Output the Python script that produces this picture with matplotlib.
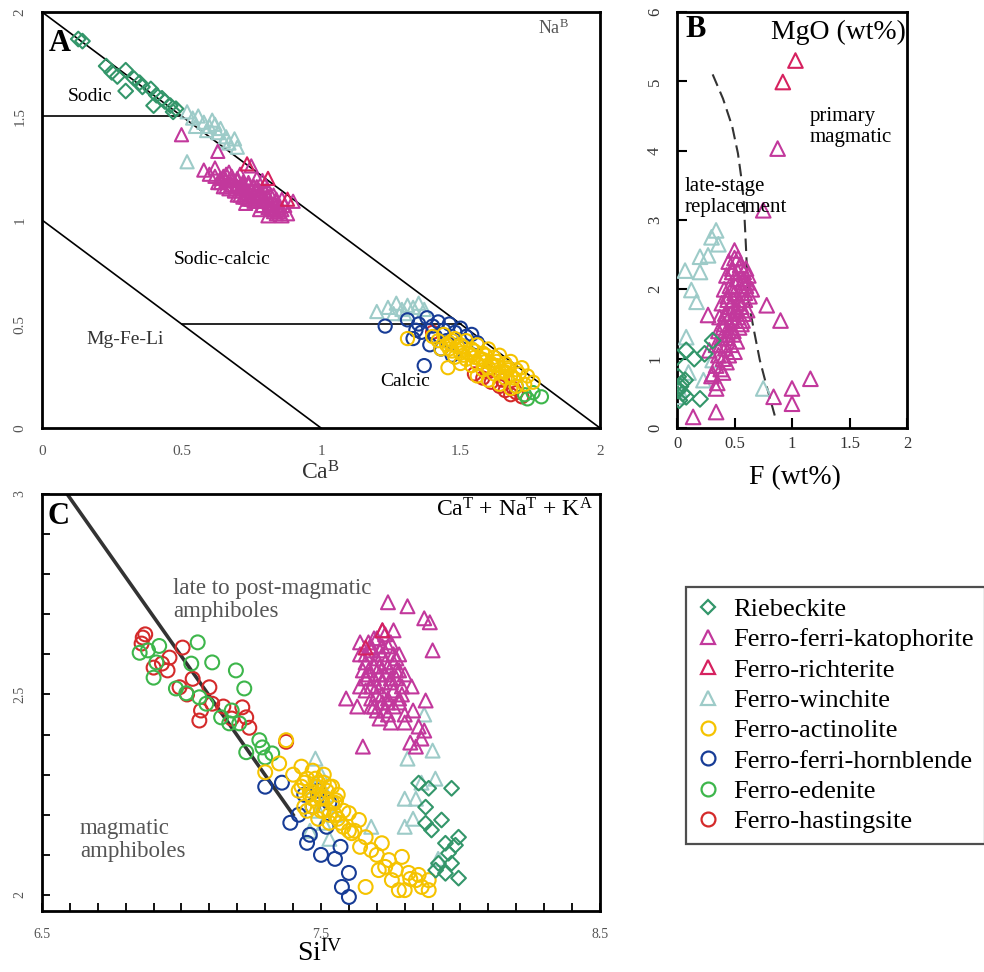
import numpy as np
import matplotlib
matplotlib.use("Agg")
import matplotlib.pyplot as plt
from matplotlib.lines import Line2D

plt.rcParams['font.family'] = ['Liberation Serif', 'DejaVu Serif']
plt.rcParams['mathtext.fontset'] = 'custom'
plt.rcParams['mathtext.rm'] = 'Liberation Serif'
plt.rcParams['mathtext.it'] = 'Liberation Serif:italic'

names = ['Riebeckite', 'Ferro-ferri-katophorite', 'Ferro-richterite', 'Ferro-winchite',
         'Ferro-actinolite', 'Ferro-ferri-hornblende', 'Ferro-edenite', 'Ferro-hastingsite']
colors = ['#33966a', '#c2389c', '#d6215f', '#9dcbc8', '#f5c300', '#173c96', '#3db64b', '#d42a2a']
markers = ['D', '^', '^', '^', 'o', 'o', 'o', 'o']

# ---------------- panel A: CaB vs NaB ----------------
rieb_A_x = [0.13, 0.145, 0.23, 0.27, 0.30, 0.30, 0.33, 0.36, 0.39, 0.40, 0.43, 0.46, 0.47, 0.48, 0.35, 0.41, 0.44, 0.25]
rieb_A_y = [1.87, 1.86, 1.74, 1.69, 1.72, 1.62, 1.68, 1.64, 1.63, 1.55, 1.585, 1.55, 1.52, 1.535, 1.66, 1.60, 1.57, 1.71]
kat_A_x = [0.50, 0.63, 0.58, 0.60, 0.62, 0.65, 0.67, 0.64, 0.68, 0.70, 0.71, 0.69, 0.72, 0.74, 0.73, 0.75, 0.76, 0.77,
           0.78, 0.76, 0.79, 0.80, 0.81, 0.79, 0.82, 0.83, 0.84, 0.82, 0.85, 0.86, 0.74, 0.71, 0.77, 0.80, 0.83, 0.87,
           0.88, 0.66, 0.70, 0.73, 0.78, 0.81, 0.84, 0.75, 0.79, 0.86, 0.72, 0.90,
           0.62, 0.64, 0.66, 0.68, 0.70, 0.72, 0.74, 0.76, 0.78, 0.80, 0.82, 0.84, 0.86,
           0.63, 0.65, 0.67, 0.69, 0.71, 0.73, 0.75, 0.77, 0.79, 0.81, 0.83, 0.85,
           0.66, 0.68, 0.70, 0.72, 0.74, 0.76, 0.78, 0.80, 0.82, 0.84]
kat_A_y = [1.41, 1.33, 1.24, 1.22, 1.25, 1.21, 1.23, 1.18, 1.19, 1.20, 1.16, 1.14, 1.17, 1.18, 1.13, 1.15, 1.12, 1.16,
           1.13, 1.09, 1.10, 1.14, 1.11, 1.07, 1.08, 1.12, 1.09, 1.05, 1.06, 1.10, 1.10, 1.22, 1.20, 1.17, 1.04, 1.07,
           1.03, 1.16, 1.12, 1.08, 1.05, 1.02, 1.03, 1.26, 1.19, 1.02, 1.11, 1.09,
           1.21, 1.20, 1.19, 1.17, 1.16, 1.15, 1.14, 1.12, 1.11, 1.10, 1.08, 1.07, 1.05,
           1.18, 1.16, 1.15, 1.14, 1.12, 1.11, 1.10, 1.09, 1.07, 1.06, 1.05, 1.04,
           1.22, 1.21, 1.19, 1.18, 1.17, 1.16, 1.14, 1.13, 1.12, 1.10]
rich_A_x = [0.735, 0.81, 0.88]
rich_A_y = [1.27, 1.20, 1.10]
win_A_x = [0.52, 0.54, 0.56, 0.58, 0.60, 0.61, 0.63, 0.64, 0.66, 0.67, 0.69, 0.70, 0.55, 0.59, 0.62, 0.65, 0.52,
           1.20, 1.24, 1.27, 1.29, 1.31, 1.33, 1.35, 1.37, 1.30, 1.26]
win_A_y = [1.52, 1.49, 1.50, 1.47, 1.45, 1.48, 1.42, 1.44, 1.40, 1.37, 1.39, 1.35, 1.45, 1.43, 1.46, 1.38, 1.28,
           0.56, 0.58, 0.60, 0.57, 0.59, 0.58, 0.60, 0.57, 0.55, 0.55]
act_A_x = [1.31, 1.455, 1.40, 1.42, 1.44, 1.46, 1.48, 1.50, 1.52, 1.54, 1.56, 1.58, 1.60, 1.62, 1.64, 1.66, 1.68, 1.70,
           1.72, 1.74, 1.76, 1.43, 1.47, 1.51, 1.55, 1.59, 1.63, 1.67, 1.71, 1.45, 1.49, 1.53, 1.57, 1.61, 1.65, 1.69,
           1.73, 1.50, 1.54, 1.58, 1.62, 1.66, 1.70, 1.56, 1.60, 1.64, 1.68,
           1.46, 1.50, 1.54, 1.58, 1.62, 1.66, 1.48, 1.52, 1.56, 1.60, 1.64, 1.68, 1.47, 1.51, 1.55, 1.59, 1.63, 1.67]
act_A_y = [0.43, 0.29, 0.44, 0.42, 0.45, 0.41, 0.43, 0.40, 0.42, 0.38, 0.40, 0.36, 0.38, 0.34, 0.35, 0.31, 0.32, 0.28,
           0.29, 0.25, 0.22, 0.38, 0.37, 0.35, 0.34, 0.32, 0.30, 0.28, 0.26, 0.40, 0.39, 0.36, 0.33, 0.31, 0.27, 0.24,
           0.21, 0.31, 0.30, 0.28, 0.26, 0.24, 0.20, 0.25, 0.23, 0.21, 0.19,
           0.38, 0.36, 0.35, 0.33, 0.30, 0.27, 0.34, 0.33, 0.31, 0.29, 0.27, 0.25, 0.42, 0.39, 0.37, 0.35, 0.32, 0.29]
hbl_A_x = [1.23, 1.33, 1.31, 1.35, 1.38, 1.40, 1.42, 1.44, 1.46, 1.48, 1.50, 1.52, 1.54, 1.56, 1.36, 1.41, 1.45, 1.39,
           1.43, 1.47, 1.34, 1.37]
hbl_A_y = [0.49, 0.43, 0.52, 0.50, 0.53, 0.49, 0.51, 0.47, 0.50, 0.46, 0.48, 0.44, 0.45, 0.41, 0.46, 0.44, 0.42, 0.40,
           0.38, 0.35, 0.47, 0.30]
ede_A_x = [1.70, 1.73, 1.76, 1.79, 1.74]
ede_A_y = [0.20, 0.16, 0.17, 0.15, 0.14]
has_A_x = [1.40, 1.55, 1.58, 1.61, 1.64, 1.66, 1.68, 1.70, 1.72, 1.60, 1.65, 1.69]
has_A_y = [0.46, 0.26, 0.24, 0.22, 0.20, 0.18, 0.16, 0.17, 0.15, 0.27, 0.23, 0.19]

# ---------------- panel B: F vs MgO ----------------
rieb_B_x = [0.0, 0.08, 0.15, 0.24, 0.31, 0.01, 0.04, 0.01, 0.08, 0.20, 0.02, 0.07, 0.03, 0.05]
rieb_B_y = [1.02, 1.12, 1.00, 1.07, 1.26, 0.74, 0.64, 0.54, 0.45, 0.42, 0.40, 0.69, 0.60, 0.50]
kat_B_x = [0.875, 0.75, 0.78, 0.90, 1.16, 1.00, 1.00, 0.84, 0.34, 0.14, 0.34, 0.31, 0.27, 0.28,
           0.50, 0.53, 0.48, 0.55, 0.58, 0.62, 0.60, 0.57, 0.52, 0.47, 0.44, 0.50, 0.54, 0.59, 0.63, 0.56,
           0.51, 0.46, 0.42, 0.48, 0.53, 0.58, 0.45, 0.40, 0.44, 0.49, 0.54, 0.38, 0.42, 0.47, 0.52, 0.36,
           0.40, 0.45, 0.50, 0.34, 0.38, 0.43, 0.30, 0.35, 0.40, 0.56, 0.61, 0.65,
           0.45, 0.50, 0.55, 0.60, 0.43, 0.48, 0.53, 0.58, 0.41, 0.46, 0.51, 0.56, 0.61, 0.39, 0.44, 0.49,
           0.54, 0.59, 0.37, 0.42, 0.47, 0.52, 0.57, 0.36, 0.41, 0.46, 0.51, 0.34, 0.39, 0.44, 0.49]
kat_B_y = [4.03, 3.14, 1.77, 1.55, 0.71, 0.57, 0.35, 0.45, 0.23, 0.16, 0.57, 0.78, 1.63, 1.12,
           2.56, 2.45, 2.30, 2.35, 2.25, 2.20, 2.05, 2.10, 2.15, 2.00, 1.90, 1.95, 1.85, 1.95, 1.90, 1.75,
           1.70, 1.75, 1.60, 1.55, 1.60, 1.65, 1.40, 1.45, 1.30, 1.35, 1.45, 1.20, 1.15, 1.20, 1.25, 1.05,
           1.00, 1.05, 1.10, 0.90, 0.85, 0.95, 0.75, 0.65, 0.80, 1.50, 1.70, 2.00,
           2.40, 2.45, 2.35, 2.30, 2.20, 2.25, 2.25, 2.15, 2.00, 2.05, 2.05, 2.00, 2.10, 1.80, 1.85, 1.85,
           1.80, 1.85, 1.60, 1.65, 1.65, 1.70, 1.55, 1.40, 1.50, 1.50, 1.55, 1.20, 1.30, 1.35, 1.40]
rich_B_x = [1.03, 0.92]
rich_B_y = [5.30, 4.99]
win_B_x = [0.34, 0.30, 0.20, 0.27, 0.07, 0.20, 0.125, 0.17, 0.08, 0.75, 0.0, 0.23, 0.31, 0.36, 0.02, 0.10]
win_B_y = [2.85, 2.75, 2.47, 2.49, 2.27, 2.25, 1.99, 1.82, 1.31, 0.57, 0.45, 0.69, 0.98, 2.65, 0.55, 0.80]
curve_B_x = [0.31, 0.40, 0.48, 0.53, 0.56, 0.58, 0.60, 0.62, 0.67, 0.72, 0.78, 0.85]
curve_B_y = [5.10, 4.75, 4.35, 3.96, 3.60, 3.28, 2.60, 1.84, 1.40, 0.98, 0.60, 0.18]

# ---------------- panel C: SiIV vs CaT + NaT + KA ----------------
rieb_C_x = [7.85, 7.886, 7.968, 7.875, 7.932, 7.875, 7.896, 7.993, 7.946, 7.982, 7.957, 7.921, 7.968, 7.946, 7.993, 7.911]
rieb_C_y = [2.279, 2.266, 2.266, 2.219, 2.187, 2.179, 2.162, 2.144, 2.129, 2.124, 2.104, 2.079, 2.079, 2.054, 2.042, 2.062]
kat_C_x = [7.74, 7.81, 7.87, 7.89, 7.90, 7.72, 7.76, 7.64, 7.59, 7.65, 7.63, 7.71, 7.75, 7.80, 7.825, 7.86, 7.84, 7.875,
           7.66, 7.68, 7.70, 7.72, 7.74, 7.76, 7.78, 7.67, 7.69, 7.71, 7.73, 7.75, 7.77, 7.79, 7.68, 7.70, 7.72, 7.74,
           7.76, 7.66, 7.69, 7.73, 7.78, 7.80, 7.83, 7.85, 7.87, 7.82,
           7.64, 7.66, 7.68, 7.70, 7.72, 7.74, 7.76, 7.78, 7.80, 7.65, 7.67, 7.69, 7.71, 7.73, 7.75, 7.77, 7.79,
           7.64, 7.66, 7.68, 7.70, 7.72, 7.74, 7.76, 7.78, 7.67, 7.69, 7.71, 7.73, 7.75, 7.77, 7.68, 7.70, 7.72, 7.74]
kat_C_y = [2.73, 2.72, 2.69, 2.68, 2.61, 2.66, 2.66, 2.63, 2.49, 2.37, 2.47, 2.44, 2.43, 2.43, 2.52, 2.39, 2.37, 2.485,
           2.60, 2.62, 2.64, 2.60, 2.62, 2.58, 2.60, 2.56, 2.57, 2.55, 2.58, 2.54, 2.56, 2.52, 2.52, 2.50, 2.53, 2.49,
           2.51, 2.54, 2.47, 2.46, 2.48, 2.45, 2.46, 2.42, 2.41, 2.38,
           2.60, 2.58, 2.61, 2.59, 2.62, 2.57, 2.60, 2.56, 2.55, 2.56, 2.55, 2.54, 2.57, 2.55, 2.53, 2.54, 2.50,
           2.52, 2.51, 2.49, 2.52, 2.50, 2.48, 2.47, 2.49, 2.63, 2.64, 2.61, 2.65, 2.63, 2.59, 2.47, 2.46, 2.48, 2.45]
rich_C_x = [7.66, 7.72]
rich_C_y = [2.617, 2.66]
win_C_x = [7.48, 7.50, 7.47, 7.52, 7.49, 7.51, 7.46, 7.53, 7.55, 7.87, 7.90, 7.81, 7.91, 7.80, 7.84, 7.80, 7.92, 7.68, 7.86, 7.83]
win_C_y = [2.34, 2.30, 2.27, 2.25, 2.21, 2.18, 2.16, 2.14, 2.20, 2.45, 2.36, 2.34, 2.29, 2.24, 2.24, 2.17, 2.09, 2.17, 2.28, 2.19]
act_C_x = [7.375, 7.30, 7.35, 7.40, 7.43, 7.45, 7.47, 7.49, 7.51, 7.53, 7.42, 7.44, 7.46, 7.48, 7.50, 7.52, 7.54, 7.56,
           7.45, 7.47, 7.49, 7.51, 7.53, 7.55, 7.58, 7.554, 7.60, 7.636, 7.61, 7.66, 7.68, 7.718, 7.743, 7.768, 7.79,
           7.814, 7.84, 7.861, 7.886, 7.779, 7.66, 7.707, 7.754, 7.886, 7.80, 7.70, 7.73, 7.62, 7.64, 7.82, 7.85,
           7.43, 7.46, 7.49, 7.52, 7.55, 7.58, 7.44, 7.47, 7.50, 7.53, 7.56, 7.48, 7.51, 7.54, 7.57, 7.60]
act_C_y = [2.386, 2.306, 2.328, 2.30, 2.32, 2.29, 2.31, 2.28, 2.30, 2.27, 2.26, 2.28, 2.25, 2.27, 2.24, 2.26, 2.23, 2.25,
           2.21, 2.22, 2.19, 2.21, 2.18, 2.20, 2.17, 2.236, 2.204, 2.187, 2.154, 2.144, 2.112, 2.129, 2.087, 2.062, 2.095,
           2.055, 2.037, 2.02, 2.012, 2.012, 2.02, 2.062, 2.037, 2.037, 2.012, 2.10, 2.07, 2.16, 2.12, 2.04, 2.05,
           2.27, 2.26, 2.25, 2.24, 2.23, 2.21, 2.22, 2.24, 2.21, 2.20, 2.19, 2.29, 2.28, 2.27, 2.18, 2.16]
hbl_C_x = [7.30, 7.36, 7.39, 7.46, 7.50, 7.55, 7.60, 7.575, 7.60, 7.44, 7.47, 7.42, 7.49, 7.52, 7.45, 7.53, 7.57]
hbl_C_y = [2.27, 2.28, 2.18, 2.15, 2.10, 2.09, 2.055, 2.02, 1.995, 2.25, 2.22, 2.20, 2.26, 2.17, 2.13, 2.23, 2.12]
ede_C_x = [6.85, 6.92, 7.058, 7.035, 7.11, 7.195, 7.225, 6.90, 6.98, 7.017, 7.064, 7.089, 7.142, 7.18, 7.171, 7.207,
           7.279, 7.29, 7.232, 7.325, 7.30, 6.88, 6.91]
ede_C_y = [2.604, 2.621, 2.63, 2.577, 2.58, 2.56, 2.515, 2.542, 2.515, 2.503, 2.493, 2.477, 2.443, 2.46, 2.428, 2.428,
           2.386, 2.368, 2.356, 2.353, 2.343, 2.61, 2.58]
has_C_x = [6.861, 6.857, 6.87, 6.90, 6.93, 6.957, 7.004, 6.993, 7.04, 7.10, 7.064, 7.11, 7.218, 7.232, 7.243, 7.375,
           6.95, 7.02, 7.07, 7.15, 7.18]
has_C_y = [2.642, 2.627, 2.65, 2.567, 2.577, 2.592, 2.617, 2.518, 2.539, 2.518, 2.435, 2.477, 2.468, 2.443, 2.417, 2.382,
           2.56, 2.50, 2.46, 2.47, 2.44]
line_C_x = [6.59, 7.40]
line_C_y = [3.00, 2.20]

fig = plt.figure(figsize=(9.84, 9.72), dpi=100)
W, H = 984.0, 972.0


def px_axes(x0, y0, x1, y1):
    return fig.add_axes([x0 / W, 1 - y1 / H, (x1 - x0) / W, (y1 - y0) / H])


def pts(ax, x, y, i, ms):
    ax.scatter(x, y, s=ms ** 2, marker=markers[i], facecolors='none', edgecolors=colors[i],
               linewidths=1.5, zorder=3)


tick_col = '#555555'

# ---------- A ----------
axA = px_axes(42, 12, 600, 428)
axA.set_xlim(0, 2)
axA.set_ylim(0, 2)
axA.plot([0, 2], [2, 0], color='k', lw=1.2, zorder=2)
axA.plot([0, 1], [1, 0], color='k', lw=1.2, zorder=2)
axA.plot([0, 0.5], [1.5, 1.5], color='k', lw=1.2, zorder=2)
axA.plot([0.5, 1.5], [0.5, 0.5], color='k', lw=1.2, zorder=2)
pts(axA, win_A_x, win_A_y, 3, 9.5)
pts(axA, has_A_x, has_A_y, 7, 9.5)
pts(axA, ede_A_x, ede_A_y, 6, 9.5)
pts(axA, hbl_A_x, hbl_A_y, 5, 9.5)
pts(axA, act_A_x, act_A_y, 4, 9.5)
pts(axA, kat_A_x, kat_A_y, 1, 9.5)
pts(axA, rich_A_x, rich_A_y, 2, 9.5)
pts(axA, rieb_A_x, rieb_A_y, 0, 7.5)
axA.set_xticks([0, 0.5, 1, 1.5, 2])
axA.set_xticklabels(['0', '0.5', '1', '1.5', '2'])
axA.set_yticks([0, 0.5, 1, 1.5, 2])
axA.set_yticklabels(['0', '0.5', '1', '1.5', '2'], rotation=90, va='center')
axA.tick_params(axis='both', length=0, labelsize=11, labelcolor=tick_col)
axA.tick_params(axis='x', pad=12)
axA.tick_params(axis='y', pad=11)
axA.text(0.012, 0.925, 'A', transform=axA.transAxes, fontsize=22, fontweight='bold', va='center')
axA.text(0.945, 0.985, r'Na$^{\mathrm{B}}$', transform=axA.transAxes, fontsize=13, color='#555555',
         ha='right', va='top')
axA.text(0.086, 0.796, 'Sodic', transform=axA.transAxes, fontsize=14, ha='center', va='center')
axA.text(0.323, 0.404, 'Sodic-calcic', transform=axA.transAxes, fontsize=14, ha='center', va='center')
axA.text(0.149, 0.212, 'Mg-Fe-Li', transform=axA.transAxes, fontsize=14, ha='center', va='center',
         color='#333333')
axA.text(0.651, 0.111, 'Calcic', transform=axA.transAxes, fontsize=14, ha='center', va='center')
fig.text(320 / W, 1 - 473 / H, r'Ca$^{\mathrm{B}}$', fontsize=17, ha='center', va='center', color='#333333')

# ---------- B ----------
axB = px_axes(677, 12, 907, 428)
axB.set_xlim(0, 2)
axB.set_ylim(0, 6)
axB.plot(curve_B_x, curve_B_y, color='#333333', lw=1.5, ls=(0, (6, 3)), zorder=2)
pts(axB, win_B_x, win_B_y, 3, 10.5)
pts(axB, kat_B_x, kat_B_y, 1, 10.5)
pts(axB, rich_B_x, rich_B_y, 2, 10.5)
pts(axB, rieb_B_x, rieb_B_y, 0, 8)
axB.set_xticks([0, 0.5, 1, 1.5, 2])
axB.set_xticklabels(['0', '0.5', '1', '1.5', '2'])
axB.set_yticks([0, 1, 2, 3, 4, 5, 6])
axB.set_yticklabels(['0', '1', '2', '3', '4', '5', '6'], rotation=90, va='center')
axB.tick_params(axis='both', direction='in', length=7, width=1.5, labelsize=12, labelcolor='#333333')
axB.tick_params(axis='x', pad=6)
axB.tick_params(axis='y', pad=10)
axB.text(0.035, 0.957, 'B', transform=axB.transAxes, fontsize=22, fontweight='bold', va='center')
axB.text(0.70, 0.952, 'MgO (wt%)', transform=axB.transAxes, fontsize=20, ha='center', va='center')
axB.text(0.578, 0.724, 'primary\nmagmatic', transform=axB.transAxes, fontsize=15, ha='left', va='center',
         linespacing=1.15)
axB.text(0.035, 0.555, 'late-stage\nreplacement', transform=axB.transAxes, fontsize=15, ha='left', va='center',
         linespacing=1.15)
fig.text(795 / W, 1 - 478 / H, 'F (wt%)', fontsize=20, ha='center', va='center')

# ---------- C ----------
axC = px_axes(42, 494, 600, 911)
axC.set_xlim(6.5, 8.5)
axC.set_ylim(1.96, 3.0)
axC.plot(line_C_x, line_C_y, color='#333333', lw=2.6, zorder=2)
pts(axC, win_C_x, win_C_y, 3, 10)
pts(axC, hbl_C_x, hbl_C_y, 5, 10)
pts(axC, has_C_x, has_C_y, 7, 10)
pts(axC, ede_C_x, ede_C_y, 6, 10)
pts(axC, act_C_x, act_C_y, 4, 10)
pts(axC, kat_C_x, kat_C_y, 1, 10)
pts(axC, rich_C_x, rich_C_y, 2, 10)
pts(axC, rieb_C_x, rieb_C_y, 0, 7.5)
axC.set_xticks([6.5, 7.5, 8.5])
axC.set_xticklabels(['6.5', '7.5', '8.5'])
axC.set_xticks(np.arange(6.6, 8.45, 0.1), minor=True)
axC.set_yticks([2, 2.5, 3])
axC.set_yticklabels(['2', '2.5', '3'], rotation=90, va='center')
axC.set_yticks(np.arange(2.1, 2.95, 0.1), minor=True)
axC.tick_params(axis='both', which='both', direction='in', length=6, width=1.3, labelsize=10,
                labelcolor=tick_col)
axC.tick_params(axis='x', which='major', pad=12)
axC.tick_params(axis='y', which='major', pad=11)
axC.text(0.01, 0.945, 'C', transform=axC.transAxes, fontsize=22, fontweight='bold', va='center')
axC.text(0.987, 0.962, r'Ca$^{\mathrm{T}}$ + Na$^{\mathrm{T}}$ + K$^{\mathrm{A}}$', transform=axC.transAxes,
         fontsize=17, ha='right', va='center')
axC.text(0.235, 0.746, 'late to post-magmatic\namphiboles', transform=axC.transAxes, fontsize=16.5,
         ha='left', va='center', color='#555555', linespacing=1.15)
axC.text(0.068, 0.17, 'magmatic\namphiboles', transform=axC.transAxes, fontsize=16.5,
         ha='left', va='center', color='#555555', linespacing=1.15)
fig.text(320 / W, 1 - 953 / H, r'Si$^{\mathrm{IV}}$', fontsize=20, ha='center', va='center')

for ax in (axA, axB, axC):
    for sp in ax.spines.values():
        sp.set_linewidth(2)

# ---------- legend ----------
handles = [Line2D([], [], ls='none', marker=markers[i], markersize=(7 if markers[i] == 'D' else 10),
                  markerfacecolor='none', markeredgecolor=colors[i], markeredgewidth=1.6)
           for i in range(len(names))]
leg = fig.legend(handles, names, loc='upper left', bbox_to_anchor=(686 / W, 1 - 587 / H),
                 fontsize=19, frameon=True, fancybox=False, edgecolor='#222222',
                 handlelength=0.9, handletextpad=0.5, labelspacing=0.26, borderpad=0.4,
                 borderaxespad=0)
leg.get_frame().set_linewidth(1.6)

fig.savefig('out.png', dpi=100)
